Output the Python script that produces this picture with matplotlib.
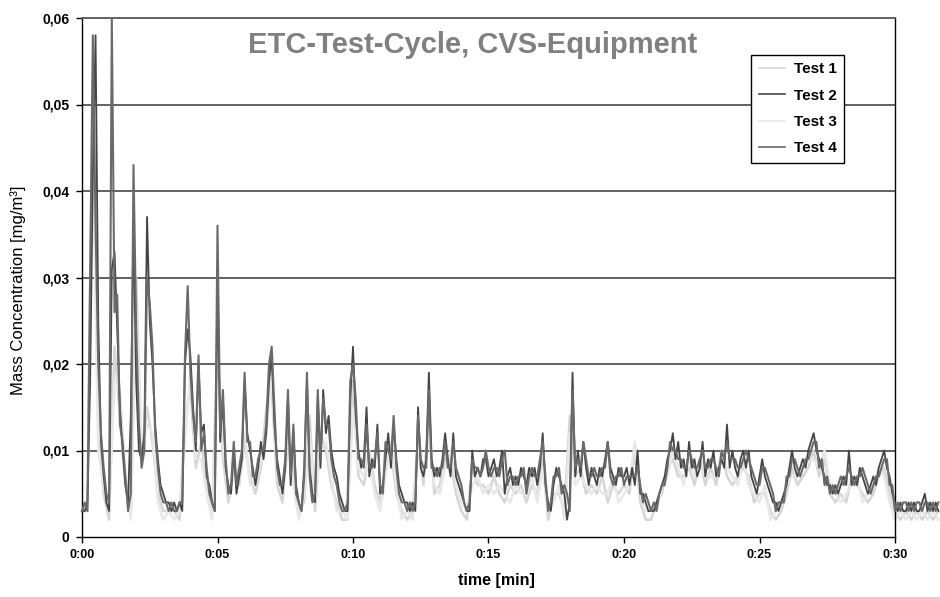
import numpy as np
import matplotlib
matplotlib.use("Agg")
import matplotlib.pyplot as plt

# mass concentration in 0.001 mg/m3, Test 2 / Test 4 sampled every 0.1 min
test2 = [
    3, 3, 4, 18, 42, 58, 25, 11, 7, 4,
    3, 31, 33, 24, 15, 10, 6, 4, 14, 36,
    18, 10, 9, 12, 37, 25, 20, 13, 9, 6,
    5, 4, 4, 3, 4, 3, 4, 3, 20, 24,
    21, 15, 10, 20, 12, 13, 7, 6, 4, 3,
    30, 11, 16, 8, 6, 5, 10, 5, 7, 9,
    18, 12, 10, 8, 6, 8, 11, 9, 12, 18,
    21, 13, 9, 7, 5, 8, 16, 6, 12, 6,
    4, 3, 8, 18, 8, 5, 4, 16, 8, 17,
    12, 14, 10, 8, 7, 5, 4, 3, 3, 16,
    22, 14, 10, 8, 9, 15, 7, 9, 8, 13,
    5, 6, 9, 12, 8, 13, 9, 6, 5, 4,
    4, 3, 4, 3, 15, 8, 7, 9, 19, 9,
    7, 8, 7, 9, 12, 9, 7, 12, 7, 6,
    5, 4, 3, 3, 10, 7, 8, 7, 9, 9,
    7, 8, 9, 7, 8, 10, 5, 7, 8, 6,
    7, 6, 8, 7, 6, 8, 7, 8, 6, 8,
    12, 6, 4, 3, 6, 8, 7, 6, 5, 2,
    4, 19, 7, 10, 7, 11, 8, 6, 8, 7,
    6, 8, 7, 9, 11, 8, 7, 6, 8, 7,
    7, 8, 6, 8, 6, 10, 5, 5, 4, 3,
    3, 3, 4, 5, 6, 7, 9, 10, 12, 9,
    11, 8, 9, 7, 11, 8, 9, 7, 8, 11,
    7, 9, 8, 10, 7, 8, 9, 8, 13, 8,
    10, 8, 7, 9, 10, 8, 10, 7, 6, 5,
    7, 9, 7, 6, 5, 4, 4, 3, 4, 5,
    6, 8, 10, 8, 7, 8, 9, 8, 10, 11,
    12, 10, 9, 8, 7, 6, 6, 5, 6, 5,
    6, 7, 6, 10, 6, 7, 6, 8, 7, 6,
    5, 6, 7, 6, 8, 9, 10, 8, 7, 5,
    4, 3, 4, 3, 3, 4, 3, 4, 3, 3,
    4, 5, 3, 4, 3, 4, 3,
]
test4 = [
    3, 4, 3, 30, 58, 36, 20, 12, 8, 5,
    4, 60, 26, 28, 13, 11, 7, 3, 5, 43,
    24, 13, 8, 10, 30, 27, 22, 12, 8, 5,
    4, 4, 3, 4, 3, 3, 4, 4, 21, 29,
    19, 14, 11, 21, 10, 12, 8, 5, 4, 3,
    36, 12, 17, 9, 5, 6, 11, 6, 8, 10,
    19, 11, 11, 7, 7, 9, 10, 10, 13, 20,
    22, 15, 8, 6, 6, 9, 17, 7, 13, 5,
    4, 3, 7, 19, 7, 4, 5, 17, 9, 16,
    13, 13, 9, 7, 6, 4, 3, 3, 4, 18,
    20, 16, 9, 9, 8, 13, 8, 8, 9, 12,
    6, 5, 11, 10, 9, 14, 8, 5, 4, 4,
    3, 4, 3, 4, 14, 9, 8, 8, 17, 8,
    8, 7, 8, 8, 11, 8, 8, 11, 8, 7,
    6, 4, 3, 4, 9, 8, 8, 7, 8, 10,
    8, 7, 8, 8, 7, 9, 10, 6, 7, 7,
    6, 7, 7, 8, 5, 7, 8, 7, 7, 9,
    11, 7, 3, 4, 7, 7, 8, 5, 6, 5,
    3, 17, 8, 9, 8, 11, 9, 7, 7, 8,
    7, 7, 8, 8, 11, 7, 6, 7, 7, 8,
    6, 7, 7, 7, 7, 8, 6, 4, 5, 4,
    3, 4, 3, 5, 6, 6, 8, 11, 10, 10,
    9, 9, 8, 8, 10, 9, 8, 8, 9, 10,
    8, 8, 9, 9, 8, 7, 10, 9, 11, 9,
    9, 9, 8, 8, 9, 10, 9, 8, 7, 6,
    6, 8, 8, 7, 6, 5, 3, 4, 4, 4,
    7, 7, 9, 9, 8, 7, 8, 9, 9, 10,
    11, 11, 8, 9, 6, 7, 5, 6, 5, 6,
    7, 6, 7, 8, 7, 6, 7, 7, 8, 7,
    6, 5, 6, 7, 7, 8, 9, 9, 6, 6,
    3, 4, 3, 4, 4, 3, 4, 3, 4, 4,
    3, 4, 4, 3, 4, 3, 4,
]
# Test 1 / Test 3 sampled every 0.2 min
test1 = [
    3, 3, 53, 12, 5, 2, 22, 14, 6, 3,
    30, 9, 15, 11, 5, 3, 3, 3, 2, 14,
    17, 8, 11, 6, 3, 22, 9, 4, 8, 6,
    11, 7, 5, 8, 15, 17, 6, 4, 12, 8,
    3, 4, 14, 3, 12, 10, 6, 4, 2, 2,
    18, 7, 6, 10, 6, 4, 8, 10, 5, 3,
    2, 3, 11, 6, 14, 5, 6, 9, 9, 5,
    3, 2, 8, 6, 6, 5, 7, 5, 4, 6,
    5, 6, 4, 6, 5, 9, 2, 5, 5, 3,
    14, 7, 8, 5, 6, 5, 7, 4, 6, 5,
    6, 5, 10, 4, 2, 2, 4, 5, 8, 9,
    7, 7, 8, 6, 9, 6, 8, 6, 10, 7,
    6, 7, 8, 7, 4, 5, 5, 3, 2, 3,
    5, 8, 6, 7, 8, 10, 7, 9, 5, 4,
    5, 4, 7, 6, 5, 4, 5, 7, 8, 5,
    3, 2, 3, 2, 3, 2, 3, 2, 3,
]
test3 = [
    3, 4, 45, 10, 6, 3, 18, 17, 7, 2,
    26, 11, 13, 12, 4, 2, 3, 2, 3, 11,
    19, 9, 9, 5, 2, 18, 11, 5, 7, 8,
    12, 6, 6, 9, 12, 19, 7, 5, 10, 6,
    2, 5, 12, 4, 10, 11, 7, 3, 3, 2,
    15, 8, 7, 9, 5, 3, 7, 11, 6, 2,
    3, 2, 10, 7, 12, 6, 5, 8, 10, 6,
    4, 3, 6, 7, 5, 6, 5, 6, 5, 4,
    6, 5, 5, 7, 4, 8, 3, 4, 6, 2,
    12, 6, 7, 6, 5, 6, 5, 5, 7, 4,
    5, 6, 11, 5, 3, 3, 3, 6, 7, 10,
    8, 6, 9, 7, 8, 7, 7, 7, 9, 8,
    7, 6, 9, 6, 5, 4, 6, 2, 3, 4,
    6, 7, 7, 8, 9, 9, 8, 10, 6, 5,
    4, 5, 6, 7, 4, 5, 6, 8, 7, 4,
    2, 3, 2, 3, 2, 3, 2, 3, 2,
]

tick_pos = [0, 5, 10, 15, 20, 25, 30]
tick_lab = ["0:00", "0:05", "0:10", "0:15", "0:20", "0:25", "0:30"]
ytick_pos = [0, 0.01, 0.02, 0.03, 0.04, 0.05, 0.06]
ytick_lab = ["0", "0,01", "0,02", "0,03", "0,04", "0,05", "0,06"]

t_dark = np.arange(len(test2)) * 0.1
t_light = np.arange(len(test1)) * 0.2

plt.rcParams['font.family'] = ['Liberation Sans', 'DejaVu Sans']

fig = plt.figure(figsize=(9.4, 5.97), dpi=100)
ax = fig.add_axes([82 / 940, 60 / 597, 813 / 940, 519 / 597])

for yv in ytick_pos[1:-1]:
    ax.axhline(yv, color='#555555', lw=1.3, zorder=1)

ax.plot(t_light, np.array(test1) / 1000, color='#d6d6d6', lw=1.8, label='Test 1', clip_on=False, zorder=2)
ax.plot(t_dark, np.array(test2) / 1000, color='#444444', lw=1.3, label='Test 2', clip_on=False, zorder=3)
ax.plot(t_light, np.array(test3) / 1000, color='#e8e8e8', lw=1.8, label='Test 3', clip_on=False, zorder=2)
ax.plot(t_dark, np.array(test4) / 1000, color='#6a6a6a', lw=1.5, label='Test 4', clip_on=False, zorder=3)

ax.set_xlim(0, 30)
ax.set_ylim(0, 0.06)
ax.set_xticks(tick_pos)
ax.set_xticklabels(tick_lab, fontweight='bold', fontsize=9)
ax.set_yticks(ytick_pos)
ax.set_yticklabels(ytick_lab, fontweight='bold', fontsize=10)
ax.tick_params(direction='out', length=4, width=1, pad=5)

ax.spines['top'].set_color('#555555')
ax.spines['top'].set_linewidth(1.3)
for s in ['left', 'bottom', 'right']:
    ax.spines[s].set_color('black')
    ax.spines[s].set_linewidth(1.0)

ax.text(0.48, 0.948, 'ETC-Test-Cycle, CVS-Equipment', transform=ax.transAxes,
        ha='center', va='center', fontsize=21, fontweight='bold', color='#808080')

leg = ax.legend(loc='upper left', bbox_to_anchor=(0.823, 0.929), borderaxespad=0,
                fancybox=False, framealpha=1, edgecolor='black', handlelength=1.7,
                handletextpad=0.6, prop={'weight': 'bold', 'size': 11}, labelspacing=0.8,
                borderpad=0.5)
leg.get_frame().set_linewidth(1.0)
for ln in leg.get_lines():
    ln.set_linewidth(1.2)

fig.text(18 / 940, (597 - 290) / 597, 'Mass Concentration [mg/m³]', rotation=90,
         ha='center', va='center', fontsize=12)
fig.text(496 / 940, (597 - 580) / 597, 'time [min]', ha='center', va='center',
         fontsize=11.5, fontweight='bold')

fig.savefig('out.png', dpi=100, facecolor='white')
